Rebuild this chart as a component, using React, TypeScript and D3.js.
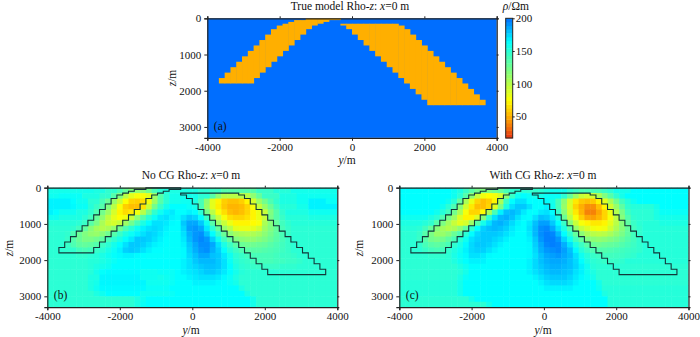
import React, { useRef, useEffect } from "react";
import * as d3 from "d3";

const FONT = "'Liberation Serif', 'Times New Roman', serif";

const yTicks = [-4000, -2000, 0, 2000, 4000];
const zTicks = [0, 1000, 2000, 3000];
const barTicks = [50, 100, 150, 200];

const cellWidth = 160; // m along y
const cellHeight = 150; // m along z

const trueBackground = 200;
const trueBody = 50;

// body outline, z of each column edge, left limb starts at column 2, right limb at column 23
const leftStart = 2;
const leftTop = [1650, 1500, 1350, 1200, 1050, 900, 750, 600, 450, 300, 200, 150, 100, 50, 50, 0, 0, 0, 0, 0, 0];
const leftBottom = [1800, 1800, 1800, 1800, 1800, 1800, 1650, 1500, 1350, 1200, 1050, 900, 750, 600, 450, 300, 200, 150, 100, 50, 50];
const rightStart = 23;
const rightTop = [150, 150, 150, 150, 150, 150, 150, 150, 150, 150, 200, 300, 450, 600, 750, 900, 1050, 1200, 1350, 1500, 1650, 1800, 1950, 2100, 2250];
const rightBottom = [200, 300, 450, 600, 750, 900, 1050, 1200, 1350, 1500, 1650, 1800, 1950, 2100, 2250, 2400, 2400, 2400, 2400, 2400, 2400, 2400, 2400, 2400, 2400];

const noCG = [
  [158,158,158,158,158,158,158,158,155,155, 148,148,140,130,120,115,115,125,140,150, 155,155,155,155,155,155,150,150,145,145, 135,135,135,135,135,135,145,145,145,152, 152,152,158,158,158,158,158,158,158,158],
  [160,160,162,162,162,162,155,155,155,148, 148,135,120,100,85,78,78,85,110,135, 150,158,158,158,158,158,150,150,135,115, 100,100,100,100,100,115,130,145,145,145, 155,155,155,160,160,160,160,160,160,160],
  [168,168,168,168,165,160,160,150,150,140, 128,112,95,76,62,60,64,80,110,135, 150,158,158,160,160,155,140,115,85,72, 60,56,56,60,72,90,110,125,138,148, 155,155,155,160,160,168,168,168,162,162],
  [168,168,168,168,166,162,162,152,145,135, 120,100,78,60,55,55,66,95,125,145, 158,165,165,165,162,158,140,112,85,70, 58,52,52,54,62,78,95,112,128,142, 152,152,152,158,158,168,168,168,168,168],
  [168,165,160,160,160,155,155,148,138,125, 110,90,72,64,68,80,100,125,148,160, 168,170,165,165,168,165,150,125,100,78, 65,55,52,55,62,72,82,95,120,135, 148,155,155,155,155,160,160,160,160,160],
  [160,160,155,155,155,155,150,142,130,115, 98,84,76,80,95,115,135,150,162,170, 172,168,166,172,178,175,165,145,118,95, 78,65,62,62,66,72,82,95,122,135, 145,152,152,152,152,155,155,155,155,155],
  [152,152,152,152,152,150,145,135,122,106, 94,90,96,110,125,140,155,165,172,172, 170,166,165,178,186,186,178,160,135,112, 95,82,72,72,72,74,78,105,118,130, 142,148,152,152,152,152,152,152,152,152],
  [150,150,150,150,148,142,132,118,108,102, 106,114,125,138,150,160,168,172,174,172, 168,165,165,175,188,190,186,170,150,130, 112,100,85,82,82,85,92,110,120,130, 140,146,150,150,150,150,150,150,150,150],
  [150,150,150,148,138,128,120,114,112,118, 126,135,145,155,162,168,172,176,174,170, 166,164,164,172,184,190,192,180,165,145, 128,116,108,104,102,104,108,116,124,132, 140,146,150,150,150,150,150,150,150,150],
  [150,150,150,146,136,128,122,122,126,132, 140,148,156,164,170,178,178,176,172,168, 165,164,164,170,182,190,194,190,176,160, 142,130,120,116,114,114,118,122,128,134, 140,146,150,150,150,150,150,150,150,150],
  [150,150,150,146,138,132,130,132,136,144, 150,158,165,172,178,178,176,172,168,166, 165,164,164,168,178,186,192,192,186,172, 156,144,134,128,126,126,128,130,134,138, 142,146,150,150,150,150,150,150,150,150],
  [150,150,150,148,148,142,140,142,146,150, 156,162,168,176,178,176,172,168,165,165, 164,164,164,166,176,184,190,192,184,176, 164,152,144,138,134,134,134,136,138,140, 143,146,150,150,150,150,150,150,150,150],
  [150,150,150,150,150,148,148,150,152,156, 160,164,166,168,168,166,165,164,164,164, 164,164,164,166,174,180,186,186,180,178, 170,160,150,146,142,140,140,140,140,142, 145,145,147,150,150,150,150,150,150,150],
  [150,150,150,150,150,150,150,152,152,155, 158,162,165,165,165,165,165,165,165,165, 165,165,165,168,172,178,182,182,182,178, 172,162,152,148,146,142,140,140,140,142, 143,145,145,147,150,150,150,150,150,150],
  [150,150,150,150,150,150,150,152,155,158, 160,165,165,165,165,165,165,165,165,165, 165,165,165,168,172,175,178,180,180,178, 172,165,155,150,148,146,145,145,145,145, 148,148,148,150,150,150,150,150,150,150],
  [150,150,150,150,150,150,150,152,158,164, 166,166,166,166,166,166,160,160,160,162, 162,162,165,168,170,172,175,178,178,175, 170,165,158,152,150,150,150,150,150,150, 150,150,150,150,150,150,150,150,150,150],
  [150,150,150,150,150,150,150,155,155,167, 167,167,167,167,167,167,160,160,160,158, 160,162,165,165,168,170,172,172,172,170, 166,162,155,150,150,150,150,150,150,150, 150,150,150,150,150,150,150,150,150,150],
  [150,150,150,150,150,150,150,155,158,167, 167,167,167,167,167,167,167,160,160,160, 160,162,165,165,165,168,168,168,168,166, 165,162,158,150,150,150,150,150,150,150, 150,150,150,150,150,150,150,150,150,150],
  [150,150,150,150,150,150,150,155,160,166, 166,166,166,166,166,166,166,162,162,162, 162,165,165,165,165,165,165,165,165,165, 165,165,165,155,150,150,150,150,150,150, 150,150,150,150,150,150,150,150,150,150],
  [150,150,150,150,150,150,150,150,155,160, 165,165,165,165,165,165,160,160,160,160, 160,162,165,165,165,165,165,165,165,165, 165,165,165,165,155,150,150,150,150,150, 150,150,150,150,150,150,150,150,150,150],
  [150,150,150,150,150,150,150,150,150,150, 150,150,150,150,150,155,160,165,165,165, 165,165,165,165,165,165,165,165,165,165, 165,165,165,165,165,158,150,150,150,150, 150,150,150,150,150,150,150,150,150,150],
  [150,150,150,150,150,150,150,150,150,150, 150,150,150,150,150,155,162,165,165,165, 165,165,165,165,165,165,165,165,165,165, 165,165,165,165,165,158,150,150,150,150, 150,150,150,150,150,150,150,150,150,150],
];

const withCG = [
  [165,165,165,165,165,165,165,165,165,160, 155,145,135,125,120,120,125,130,140,148, 150,150,148,148,150,155,160,160,160,150, 145,140,140,140,140,145,150,158,158,158, 165,165,165,165,165,165,165,165,165,165],
  [165,165,165,165,165,165,165,165,165,160, 150,135,115,95,80,75,78,90,115,145, 160,165,162,158,158,162,162,162,150,130, 110,95,90,92,105,120,135,148,158,165, 165,165,165,165,165,165,165,165,165,165],
  [165,165,165,165,165,165,165,165,160,150, 130,105,82,62,55,60,72,105,145,165, 172,172,165,165,165,165,158,140,115,90, 68,58,55,58,70,85,105,125,142,152, 160,165,165,165,165,165,165,165,165,165],
  [165,165,165,165,165,165,165,160,150,138, 118,92,68,55,55,62,85,120,155,172, 178,178,172,165,165,168,160,140,112,88, 62,50,42,42,55,72,92,112,132,148, 152,152,152,152,158,165,165,165,165,165],
  [165,165,165,165,165,165,160,152,142,125, 105,78,62,62,75,105,140,168,180,182, 178,170,165,165,170,172,165,148,118,92, 68,52,38,38,48,62,82,102,122,142, 150,150,150,150,156,162,162,162,162,162],
  [160,160,160,160,160,155,150,138,125,110, 88,72,72,88,118,148,172,182,184,180, 172,166,165,172,180,178,170,155,128,100, 78,60,48,46,52,62,78,98,118,136, 148,150,150,150,155,158,158,158,158,158],
  [155,155,155,155,152,148,135,122,108,95, 85,90,110,135,158,172,182,184,180,174, 168,165,170,180,188,188,178,165,145,118, 95,78,72,68,68,72,85,100,118,132, 145,150,152,152,152,155,155,155,155,155],
  [152,152,152,150,142,130,118,108,102,105, 115,130,148,165,176,180,182,180,176,170, 166,165,172,182,192,194,186,172,155,135, 112,96,88,80,78,80,92,105,118,130, 142,148,152,152,152,152,152,152,152,152],
  [150,150,150,146,135,122,112,112,118,128, 138,150,165,174,178,178,178,176,172,168, 165,165,170,182,192,196,194,182,165,148, 130,116,106,100,98,100,106,114,122,132, 142,148,152,152,152,152,152,152,152,152],
  [150,150,150,145,135,125,122,125,132,140, 150,160,172,176,178,178,175,172,168,165, 165,165,168,178,190,196,196,190,175,160, 142,130,120,116,114,116,120,124,130,136, 142,148,152,152,152,152,152,152,152,152],
  [150,150,150,148,140,134,132,135,140,148, 156,166,174,178,178,176,172,168,165,165, 165,165,166,176,186,194,196,194,184,172, 156,144,134,128,126,128,130,132,136,140, 144,148,152,152,152,152,152,152,152,152],
  [150,150,150,150,146,142,140,142,148,154, 160,168,174,176,176,172,168,165,165,165, 165,165,166,174,184,190,192,194,188,180, 166,152,144,138,136,136,138,140,142,144, 146,148,152,152,152,152,152,152,152,152],
  [150,150,150,150,150,148,148,148,150,156, 162,166,172,172,170,166,165,165,165,165, 165,165,166,172,180,186,188,190,186,182, 172,160,152,146,144,142,142,143,144,146, 148,152,152,152,152,152,152,152,152,152],
  [150,150,150,150,150,150,150,150,150,154, 160,165,168,168,168,165,165,165,165,165, 165,165,168,174,180,184,186,186,184,180, 174,165,155,150,148,146,145,146,148,152, 152,152,152,152,152,152,152,152,152,152],
  [150,150,150,150,150,150,150,150,150,150, 155,160,165,165,165,165,165,165,165,165, 165,165,168,174,178,182,184,184,182,180, 175,168,160,152,150,150,150,150,150,150, 150,150,150,150,150,150,150,150,150,150],
  [150,150,150,150,150,150,150,150,150,150, 152,158,165,165,165,165,165,165,165,165, 165,165,168,172,176,180,182,182,180,178, 172,168,160,155,150,150,150,150,150,150, 150,150,150,150,150,150,150,150,150,150],
  [150,150,150,150,150,150,150,150,150,150, 155,162,165,165,165,165,165,165,165,165, 165,165,165,168,172,176,178,178,178,175, 170,166,162,158,150,150,150,150,150,150, 150,150,150,150,150,150,150,150,150,150],
  [152,152,152,152,152,152,152,152,152,152, 158,165,165,165,165,165,165,165,165,165, 165,165,165,165,168,172,174,174,174,172, 168,165,165,165,158,150,150,150,150,150, 150,150,150,150,150,150,150,150,150,150],
  [152,152,152,152,152,152,152,152,152,152, 158,165,165,165,165,165,165,165,165,165, 165,165,165,165,165,168,168,168,168,168, 165,165,165,165,160,152,152,152,152,152, 152,152,152,152,152,152,152,152,152,152],
  [152,152,152,152,152,152,152,152,152,152, 158,165,165,165,165,165,165,165,165,165, 165,165,165,165,165,165,165,165,165,165, 165,165,165,165,165,155,152,152,152,152, 152,152,152,152,152,152,152,152,152,152],
  [150,150,150,150,150,150,150,150,150,150, 150,150,158,165,165,165,165,165,165,165, 165,165,165,165,165,165,165,165,165,165, 165,165,165,165,165,165,152,152,152,152, 152,152,152,152,152,152,152,152,152,152],
  [150,150,150,150,150,150,150,150,150,150, 150,150,150,150,150,158,165,165,165,165, 165,165,165,165,165,165,165,165,165,165, 165,165,165,165,165,165,152,152,152,152, 152,152,152,152,152,152,152,152,152,152],
];

const colorStops = [17, 50, 75, 120, 165, 200];
const colorValues = ["#e63214", "#ffaf00", "#ffff00", "#80ff80", "#00ffff", "#006eff"];
const rhoColor = d3.scaleLinear<string>().domain(colorStops).range(colorValues).clamp(true);

const zExtent = [0, 3300];
const yExtent = [-4000, 4000];

function addAxes(g: any, x: any, z: any) {
  const style = (a: any) => {
    a.selectAll("text").attr("font-family", FONT).attr("font-size", 11).attr("fill", "#111");
    a.selectAll("line").attr("stroke", "#222");
    a.selectAll("path").attr("stroke", "#222").attr("stroke-width", 1.2);
  };
  const h = z.range()[1];
  const w = x.range()[1];
  g.append("g").attr("transform", `translate(0,${h})`)
    .call(d3.axisBottom(x).tickValues(yTicks).tickSize(3).tickPadding(2).tickFormat(String as any)).call(style);
  g.append("g").call(d3.axisLeft(z).tickValues(zTicks).tickSize(3).tickPadding(3).tickFormat(String as any)).call(style);
  g.append("g").call(d3.axisTop(x).tickValues(yTicks).tickSize(2).tickFormat(() => "")).call(style);
  g.append("g").attr("transform", `translate(${w},0)`)
    .call(d3.axisRight(z).tickValues(zTicks).tickSize(2).tickFormat(() => "")).call(style);
}

function addTitle(svg: any, cx: number, cy: number, name: string) {
  const t = svg.append("text").attr("x", cx).attr("y", cy).attr("text-anchor", "middle")
    .attr("dominant-baseline", "middle").attr("font-family", FONT).attr("font-size", 11.5).attr("fill", "#111");
  t.append("tspan").text(`${name} Rho-`);
  t.append("tspan").attr("font-style", "italic").text("z");
  t.append("tspan").text(": ");
  t.append("tspan").attr("font-style", "italic").text("x");
  t.append("tspan").text("=0 m");
}

function addAxisNames(svg: any, yx: number, yy: number, zx: number, zy: number) {
  const a = svg.append("text").attr("x", yx).attr("y", yy).attr("text-anchor", "middle")
    .attr("dominant-baseline", "middle").attr("font-family", FONT).attr("font-size", 11.5).attr("fill", "#111");
  a.append("tspan").attr("font-style", "italic").text("y");
  a.append("tspan").text("/m");
  const b = svg.append("text").attr("transform", `translate(${zx},${zy}) rotate(-90)`).attr("text-anchor", "middle")
    .attr("dominant-baseline", "middle").attr("font-family", FONT).attr("font-size", 11.5).attr("fill", "#111");
  b.append("tspan").attr("font-style", "italic").text("z");
  b.append("tspan").text("/m");
}

function panel(svg: any, left: number, top: number, width: number, height: number, letter: string, grid: number[][] | null) {
  const x = d3.scaleLinear().domain(yExtent).range([0, width]);
  const z = d3.scaleLinear().domain(zExtent).range([0, height]);
  const g = svg.append("g").attr("transform", `translate(${left},${top})`);
  const edge = (k: number) => x(-4000 + k * cellWidth);

  if (grid) {
    grid.forEach((row, r) => {
      g.selectAll(null).data(row).enter().append("rect")
        .attr("x", (_: number, k: number) => edge(k))
        .attr("width", (_: number, k: number) => Math.min(edge(k + 1) + 0.5, width) - edge(k))
        .attr("y", z(r * cellHeight))
        .attr("height", Math.min(z((r + 1) * cellHeight) + 0.5, height) - z(r * cellHeight))
        .attr("fill", (d: number) => rhoColor(d));
    });
  } else {
    g.append("rect").attr("width", width).attr("height", height).attr("fill", rhoColor(trueBackground));
  }

  const limbs = [
    { start: leftStart, tops: leftTop, bottoms: leftBottom },
    { start: rightStart, tops: rightTop, bottoms: rightBottom },
  ];

  limbs.forEach((limb) => {
    if (!grid) {
      g.selectAll(null).data(limb.tops).enter().append("rect")
        .attr("x", (_: number, i: number) => edge(limb.start + i))
        .attr("width", x(cellWidth) - x(0) + 0.5)
        .attr("y", (d: number) => z(d))
        .attr("height", (d: number, i: number) => z(limb.bottoms[i]) - z(d))
        .attr("fill", rhoColor(trueBody));
    } else {
      const pts: [number, number][] = [];
      limb.tops.forEach((d, i) => {
        pts.push([edge(limb.start + i), z(d)], [edge(limb.start + i + 1), z(d)]);
      });
      for (let i = limb.bottoms.length - 1; i >= 0; i--) {
        pts.push([edge(limb.start + i + 1), z(limb.bottoms[i])], [edge(limb.start + i), z(limb.bottoms[i])]);
      }
      g.append("path")
        .attr("d", d3.line()(pts) + "Z")
        .attr("fill", "none")
        .attr("stroke", "#12383a")
        .attr("stroke-width", 1.1);
    }
  });

  addAxes(g, x, z);

  g.append("text").attr("x", 6.5).attr("y", z(3000)).attr("dominant-baseline", "middle")
    .attr("font-family", FONT).attr("font-size", 11.5).attr("fill", "#111").text(letter);
}

function colorbar(svg: any, left: number, top: number, width: number, height: number) {
  const s = d3.scaleLinear().domain([17, 200]).range([height, 0]);
  const g = svg.append("g").attr("transform", `translate(${left},${top})`);
  const levels = d3.range(32);
  const step = (200 - 17) / levels.length;
  g.selectAll("rect").data(levels).enter().append("rect")
    .attr("x", 0).attr("width", width)
    .attr("y", (d: number) => s(17 + (d + 1) * step))
    .attr("height", s(17) - s(17 + step) + 0.4)
    .attr("fill", (d: number) => rhoColor(17 + (d + 0.5) * step));
  g.append("rect").attr("width", width).attr("height", height).attr("fill", "none").attr("stroke", "#222").attr("stroke-width", 1);
  const ax = g.append("g").attr("transform", `translate(${width},0)`)
    .call(d3.axisRight(s).tickValues(barTicks).tickSize(2).tickPadding(1).tickFormat(String as any));
  ax.select("path").remove();
  ax.selectAll("text").attr("font-family", FONT).attr("font-size", 11).attr("fill", "#111");
  ax.selectAll("line").attr("stroke", "#222");
  const t = svg.append("text").attr("x", left - 3).attr("y", 7).attr("dominant-baseline", "middle")
    .attr("font-family", FONT).attr("font-size", 11.5).attr("fill", "#111");
  t.append("tspan").attr("font-style", "italic").text("ρ");
  t.append("tspan").text("/Ωm");
}

export default function App() {
  const ref = useRef<SVGSVGElement>(null);

  useEffect(() => {
    const svg = d3.select(ref.current);
    svg.selectAll("*").remove();

    panel(svg, 207.3, 18.3, 289.4, 119.5, "(a)", null);
    panel(svg, 47.3, 187.7, 290, 119.5, "(b)", noCG);
    panel(svg, 399.3, 187.7, 289.2, 119.5, "(c)", withCG);
    colorbar(svg, 505.7, 18.3, 7, 119.7);

    addTitle(svg, 350, 6.5, "True model");
    addTitle(svg, 191, 176, "No CG");
    addTitle(svg, 543, 176, "With CG");

    addAxisNames(svg, 347, 161, 173, 78);
    addAxisNames(svg, 191, 331, 10, 248);
    addAxisNames(svg, 543, 331, 360, 248);
  }, []);

  return <svg ref={ref} width={700} height={337} style={{ position: "absolute", left: 0, top: 0, background: "#fff" }} />;
}
